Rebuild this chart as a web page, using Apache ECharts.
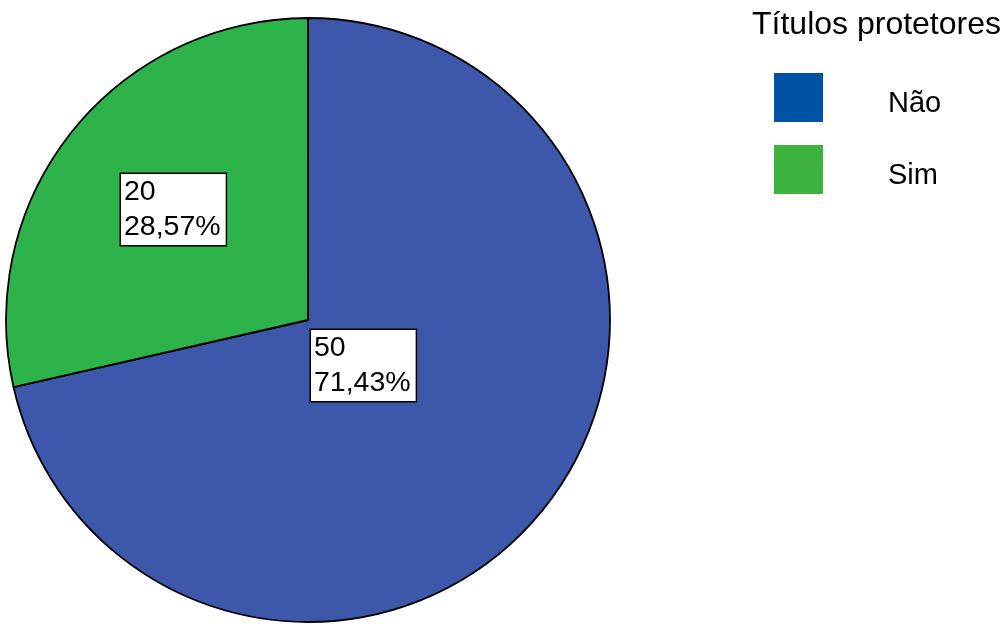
<!DOCTYPE html>
<html>
<head>
<meta charset="utf-8">
<script src="https://cdn.jsdelivr.net/npm/echarts@6/dist/echarts.min.js"></script>
<style>
  html, body { margin: 0; padding: 0; background: #fff; }
  #chart { width: 1003px; height: 624px; }
</style>
</head>
<body>
<div id="chart"></div>
<script>
// Títulos protetores: counts per answer
const categories = ['Não', 'Sim'];
const counts = [50, 20];
const percentLabels = ['71,43%', '28,57%'];

const sliceColors = ['#3D58AA', '#2DB34A'];
const legendColors = ['#0052A5', '#3CB33C'];
// label box top-left, relative to the pie centre
const labelOffsets = [[3, 10], [-187, -146]];

const center = [308, 320];
const FONT = '"Liberation Sans", Arial, sans-serif';

const chart = echarts.init(document.getElementById('chart'), null, { renderer: 'canvas' });

chart.setOption({
  animation: false,
  backgroundColor: '#fff',
  title: {
    text: 'Títulos protetores',
    left: 752,
    top: 9,
    padding: 0,
    textStyle: { fontFamily: FONT, fontSize: 32, fontWeight: 'normal', color: '#000' }
  },
  legend: {
    orient: 'vertical',
    left: 774,
    top: 73,
    padding: 0,
    itemWidth: 49,
    itemHeight: 49,
    itemGap: 23,
    icon: 'rect',
    selectedMode: false,
    data: categories.map((name, i) => ({
      name,
      itemStyle: { color: legendColors[i], borderWidth: 0 }
    })),
    formatter: name => '{t|' + name + '}',
    textStyle: {
      rich: {
        t: {
          fontFamily: FONT, fontSize: 29, color: '#000',
          padding: [12, 0, 0, 60]
        }
      }
    }
  },
  series: [{
    type: 'pie',
    center: center,
    radius: 302,
    startAngle: 90,
    clockwise: true,
    emphasis: { disabled: true },
    itemStyle: { borderColor: '#000', borderWidth: 1.8 },
    data: categories.map((name, i) => ({
      name,
      value: counts[i],
      itemStyle: { color: sliceColors[i] }
    })),
    label: {
      show: true,
      position: 'inside',
      formatter: p => counts[p.dataIndex] + '\n' + percentLabels[p.dataIndex],
      fontFamily: FONT,
      fontSize: 28.5,
      lineHeight: 35,
      color: '#000',
      align: 'left',
      verticalAlign: 'top',
      backgroundColor: '#fff',
      borderColor: '#000',
      borderWidth: 1.5,
      padding: [1, 5, 0, 3]
    },
    labelLayout: p => ({
      x: center[0] + labelOffsets[p.dataIndex][0],
      y: center[1] + labelOffsets[p.dataIndex][1],
      align: 'left',
      verticalAlign: 'top'
    }),
    labelLine: { show: false }
  }]
});
</script>
</body>
</html>
